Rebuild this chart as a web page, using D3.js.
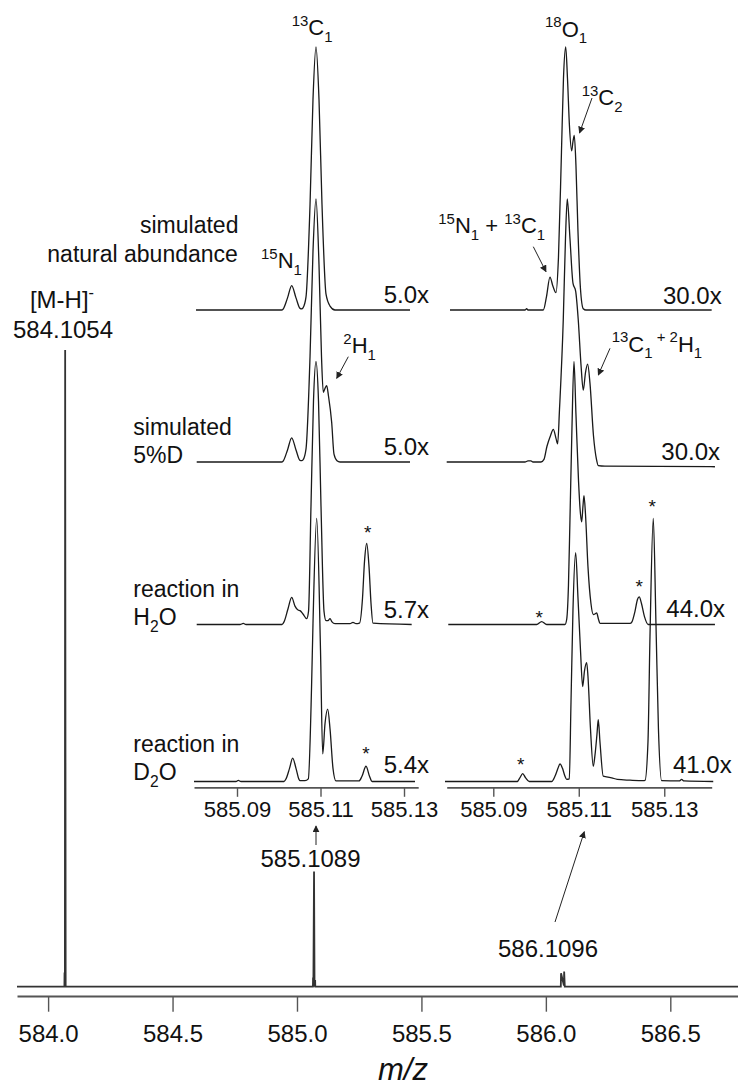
<!DOCTYPE html>
<html>
<head>
<meta charset="UTF-8">
<style>
  body { margin: 0; background: white; }
  svg { display: block; font-family: "Liberation Sans", Arial, sans-serif; }
  .trace { fill: none; stroke: #1a1a1a; stroke-width: 1.3; stroke-linejoin: round; }
  .main { fill: none; stroke: #333; stroke-width: 1.8; }
  .axis path, .axis line { stroke: #555; }
  .axis path { stroke-width: 1.8; }
  .axis line { stroke-width: 1.4; }
  .axis text { fill: #111; font-family: "Liberation Sans", Arial, sans-serif; }
  .arrow { stroke: #222; stroke-width: 1; }
</style>
</head>
<body>
<script src="https://cdnjs.cloudflare.com/ajax/libs/d3/7.8.5/d3.min.js"></script>
<script>

// ---- data (m/z, relative intensity %) ----
const mainTicks = [584.0, 584.5, 585.0, 585.5, 586.0, 586.5];
const insetTicks = [585.09, 585.11, 585.13];

const mainSpectrum = [
  [583.875, 0], [584.0655, 0], [584.0660, 2.1], [584.0675, 2.1], [584.0685, 100], [584.0705, 0],
  [585.0640, 0], [585.0645, 1.3], [585.0660, 1.3], [585.0685, 18.1], [585.0705, 0],
  [585.0715, 0.9], [585.0730, 0.9], [585.0735, 0],
  [586.0600, 0], [586.0610, 2.1], [586.0725, 0.2], [586.0735, 2.4], [586.0760, 0],
  [586.772, 0]
];

const leftNatural = [
  [585.08018,0],[585.10071,0],[585.10102,0.3],[585.10210,4.6],[585.10310,9.3],[585.10413,4.6],
  [585.10509,0.6],[585.10550,0.4],[585.10581,0.8],[585.10653,5],[585.10749,40],[585.10820,80],
  [585.10892,100],[585.10964,80],[585.11036,40],[585.11132,6],[585.11228,1.5],[585.11347,0],[585.13144,0]
];
const leftD5 = [
  [585.08035,0],[585.10071,0],[585.10102,0.3],[585.10210,4.6],[585.10310,9.2],[585.10413,4.6],
  [585.10509,0.6],[585.10550,0.5],[585.10581,0.8],[585.10653,5],[585.10749,40],[585.10820,80],
  [585.10892,100],[585.10964,75],[585.11024,40],[585.11067,26.5],[585.11108,28],[585.11148,29],
  [585.11192,25],[585.11268,15],[585.11323,3],[585.11395,0.5],[585.11467,0],[585.13144,0]
];
const leftH2O = [
  [585.08035,0],[585.09072,0],[585.09151,0.4],[585.09216,0],[585.10078,0],[585.10126,1],
  [585.10222,6],[585.10310,10.3],[585.10389,7],[585.10461,5.5],[585.10509,5.3],[585.10581,4],
  [585.10669,2.2],[585.10713,5],[585.10772,45],[585.10832,85],[585.10892,100],[585.10952,85],
  [585.11012,45],[585.11084,5],[585.11132,1.5],[585.11180,1.5],[585.11228,2.2],[585.11275,1],
  [585.11347,0.3],[585.11707,0.3],[585.11778,0.8],[585.11850,0.3],[585.11934,0.5],[585.12006,10],
  [585.12054,24],[585.12107,30.8],[585.12162,22],[585.12210,8],[585.12257,0.5],[585.13184,0]
];
const leftD2O = [
  [585.07970,0],[585.08976,0],[585.09031,0.4],[585.09096,0],[585.10126,0],[585.10174,1],
  [585.10258,5],[585.10334,8.9],[585.10413,5],[585.10485,0.8],[585.10509,0.3],[585.10629,0.3],
  [585.10708,1],[585.10784,35],[585.10820,60],[585.10909,100],[585.11000,50],[585.11053,10.5],
  [585.11108,22],[585.11172,27.5],[585.11228,20],[585.11299,5],[585.11371,0.2],[585.11922,0.2],
  [585.11994,2],[585.12090,5.8],[585.12174,2],[585.12234,0],[585.13263,0]
];

const rightNatural = [
  [585.07987,0],[585.09741,0],[585.09781,0.5],[585.09812,0],[585.10170,0],[585.10244,5],
  [585.10326,12.5],[585.10396,9],[585.10467,6.6],[585.10525,20],[585.10595,60],[585.10642,88],
  [585.10694,100],[585.10736,88],[585.10782,70],[585.10834,60.5],[585.10864,64],[585.10895,66.4],
  [585.10934,55],[585.10981,30],[585.11040,8],[585.11105,0.5],[585.11168,0],[585.14109,0]
];
const rightD5 = [
  [585.07910,0],[585.09741,0],[585.09812,0.4],[585.09882,0.4],[585.09929,0],[585.10116,0],
  [585.10186,1],[585.10256,6],[585.10338,10],[585.10404,12.4],[585.10467,9],[585.10506,6.9],
  [585.10549,20],[585.10637,54],[585.10689,85],[585.10731,100],[585.10794,85],[585.10864,68],
  [585.10927,65],[585.10988,54],[585.11052,37],[585.11105,27.3],[585.11157,34],[585.11208,37.2],
  [585.11262,30],[585.11344,10],[585.11414,1],[585.11456,-1.4],[585.11613,-1.6],[585.14186,-1.8]
];
const rightH2O = [
  [585.07947,0],[585.10015,0],[585.10132,1.1],[585.10249,0],[585.10677,0],[585.10717,1.9],
  [585.10759,15],[585.10794,40],[585.10841,75],[585.10888,100],[585.10934,80],[585.10993,55],
  [585.11040,42],[585.11068,39],[585.11098,45],[585.11122,49],[585.11157,42],[585.11215,22],
  [585.11285,8],[585.11339,3.8],[585.11379,4],[585.11419,4.4],[585.11461,2],[585.11496,0.4],
  [585.12198,0.4],[585.12244,1],[585.12315,5],[585.12373,9.5],[585.12415,10.5],[585.12467,8],
  [585.12537,3],[585.12626,0],[585.14186,0]
];
const rightD2O = [
  [585.07870,0],[585.09561,0],[585.09625,1.5],[585.09688,3],[585.09753,1.5],[585.09842,0],
  [585.10366,0],[585.10443,2],[585.10513,5],[585.10560,6.7],[585.10619,5],[585.10677,2],
  [585.10717,0.8],[585.10778,1],[585.10818,30],[585.10864,65],[585.10927,87],[585.10981,70],
  [585.11040,50],[585.11091,36.1],[585.11133,42],[585.11185,45.2],[585.11215,40],[585.11274,20],
  [585.11339,5.8],[585.11379,10],[585.11426,18],[585.11456,23.5],[585.11496,15],[585.11573,2],
  [585.11650,1.8],[585.11770,1.4],[585.11900,0.8],[585.12198,0.5],[585.12509,0.3],[585.12549,0.4],
  [585.12619,15],[585.12666,55],[585.12743,100],[585.12806,60],[585.12864,20],[585.12939,0.3],
  [585.13350,0.2],[585.13407,0.8],[585.13460,0.2],[585.14146,0]
];

const leftTraces = [leftNatural, leftD5, leftH2O, leftD2O];
const rightTraces = [rightNatural, rightD5, rightH2O, rightD2O];
const leftFactors = ["5.0x", "5.0x", "5.7x", "5.4x"];
const rightFactors = ["30.0x", "30.0x", "44.0x", "41.0x"];

// ---- layout ----
const W = 738, H = 1087;
const rowBase = [310, 462, 624.5, 781.5];
const rowSpan = 263;
const insetAxisY = 787.3;

const svg = d3.select("body").append("svg").attr("width", W).attr("height", H);
svg.append("rect").attr("width", W).attr("height", H).attr("fill", "white");

svg.append("defs").append("marker")
    .attr("id", "head")
    .attr("viewBox", "0 0 10 10")
    .attr("refX", 9).attr("refY", 5)
    .attr("markerWidth", 7).attr("markerHeight", 7)
    .attr("markerUnits", "userSpaceOnUse")
    .attr("orient", "auto")
  .append("path").attr("d", "M0,0 L10,5 L0,10 z").attr("fill", "#222");

// scales
let xMain = d3.scaleLinear().domain([583.875, 586.772]).range([17, 738]);
let yMain = d3.scaleLinear().domain([0, 100]).range([986.7, 350]);
let xL = d3.scaleLinear().domain([585.0797, 585.1334]).range([194, 418.2]);
let xR = d3.scaleLinear().domain([585.0791, 585.1411]).range([446.7, 711.7]);

function rowScale(i) {
  return d3.scaleLinear().domain([0, 100]).range([rowBase[i], rowBase[i] - rowSpan]);
}

// main spectrum
svg.append("path")
    .datum(mainSpectrum)
    .attr("class", "main")
    .attr("d", d3.line().x(d => xMain(d[0])).y(d => yMain(d[1])));

let mainAxis = svg.append("g")
    .attr("class", "axis")
    .attr("transform", "translate(0,996)")
    .call(d3.axisBottom(xMain).tickValues(mainTicks).tickSize(15.7).tickSizeOuter(0).tickFormat(d3.format(".1f")));
mainAxis.selectAll("text").attr("y", 45.7).attr("dy", null).attr("font-size", 24);

// insets
function drawInset(traces, x) {
  traces.forEach((tr, i) => {
    let y = rowScale(i);
    svg.append("path")
        .datum(tr)
        .attr("class", "trace")
        .attr("d", d3.line().curve(d3.curveMonotoneX).x(d => x(d[0])).y(d => y(d[1])));
  });
  let ax = svg.append("g")
      .attr("class", "axis")
      .attr("transform", "translate(0," + insetAxisY + ")")
      .call(d3.axisBottom(x).tickValues(insetTicks).tickSize(9.5).tickSizeOuter(0).tickFormat(d3.format(".2f")));
  ax.selectAll("text").attr("y", 30).attr("dy", null).attr("font-size", 22);
}
drawInset(leftTraces, xL);
drawInset(rightTraces, xR);

// rich text helper: parts = [[text, "sup"|"sub"|undefined], ...]
function rich(x, y, parts, size, anchor) {
  let t = svg.append("text")
      .attr("x", x).attr("y", y)
      .attr("font-size", size)
      .attr("fill", "#111")
      .attr("text-anchor", anchor || "start")
      .attr("xml:space", "preserve");
  let cur = 0;
  parts.forEach(p => {
    let want = p[1] == "sup" ? -size * 0.42 : p[1] == "sub" ? size * 0.3 : 0;
    t.append("tspan")
        .attr("dy", want - cur)
        .attr("font-size", p[1] ? size * 0.68 : size)
        .text(p[0]);
    cur = want;
  });
  return t;
}

function plain(x, y, str, size, anchor) {
  return svg.append("text")
      .attr("x", x).attr("y", y)
      .attr("font-size", size)
      .attr("fill", "#111")
      .attr("text-anchor", anchor || "start")
      .text(str);
}

function arrow(x1, y1, x2, y2) {
  svg.append("line")
      .attr("class", "arrow")
      .attr("x1", x1).attr("y1", y1).attr("x2", x2).attr("y2", y2)
      .attr("marker-end", "url(#head)");
}

// row labels
plain(140, 232.7, "simulated", 23);
plain(47.3, 261.7, "natural abundance", 23);
plain(133.3, 435, "simulated", 23);
plain(133.3, 463.3, "5%D", 23);
plain(133.3, 596.7, "reaction in", 23);
rich(133.3, 625, [["H"], ["2", "sub"], ["O"]], 23);
plain(133.3, 751.7, "reaction in", 23);
rich(133.3, 780, [["D"], ["2", "sub"], ["O"]], 23);

// magnification factors
const leftFactorY = [303.3, 455, 617.7, 773.3];
const rightFactorX = [721.7, 720, 725, 731.7];
const rightFactorY = [304, 460, 616.7, 773.3];
leftFactors.forEach((f, i) => plain(429, leftFactorY[i], f, 24, "end"));
rightFactors.forEach((f, i) => plain(rightFactorX[i], rightFactorY[i], f, 24, "end"));

// isotope annotations
rich(291.7, 35, [["13", "sup"], ["C"], ["1", "sub"]], 22);
rich(261, 268.3, [["15", "sup"], ["N"], ["1", "sub"]], 22);
rich(343.3, 353.3, [["2", "sup"], ["H"], ["1", "sub"]], 22);
rich(545, 36.7, [["18", "sup"], ["O"], ["1", "sub"]], 22);
rich(581.7, 105, [["13", "sup"], ["C"], ["2", "sub"]], 22);
rich(438.3, 233.3, [["15", "sup"], ["N"], ["1", "sub"], [" + "], ["13", "sup"], ["C"], ["1", "sub"]], 22);
rich(611.7, 351.7, [["13", "sup"], ["C"], ["1", "sub"], [" + 2", "sup"], ["H"], ["1", "sub"]], 22);

arrow(592, 98, 579.5, 133);
arrow(533.3, 246.7, 546, 271.7);
arrow(348.3, 356.7, 336.7, 378.3);
arrow(610, 348.3, 598.3, 375);

// impurity stars
[[367.7, 528.3], [366, 749.3], [539.3, 612.7], [639.3, 581.7], [652.3, 501.7], [520.7, 760]]
  .forEach(s => plain(s[0], s[1] + 11, "*", 19, "middle"));

// main peak labels
rich(62, 308, [["[M-H]"], ["-", "sup"]], 24, "middle");
plain(63, 338, "584.1054", 24, "middle");
plain(310.5, 867.3, "585.1089", 24, "middle");
arrow(316, 845, 316, 826);
plain(548, 957, "586.1096", 24, "middle");
arrow(555, 922, 584.3, 831.7);

// axis title
svg.append("text")
    .attr("x", 403).attr("y", 1080)
    .attr("font-size", 31)
    .attr("font-style", "italic")
    .attr("text-anchor", "middle")
    .attr("fill", "#111")
    .text("m/z");

</script>
</body>
</html>
